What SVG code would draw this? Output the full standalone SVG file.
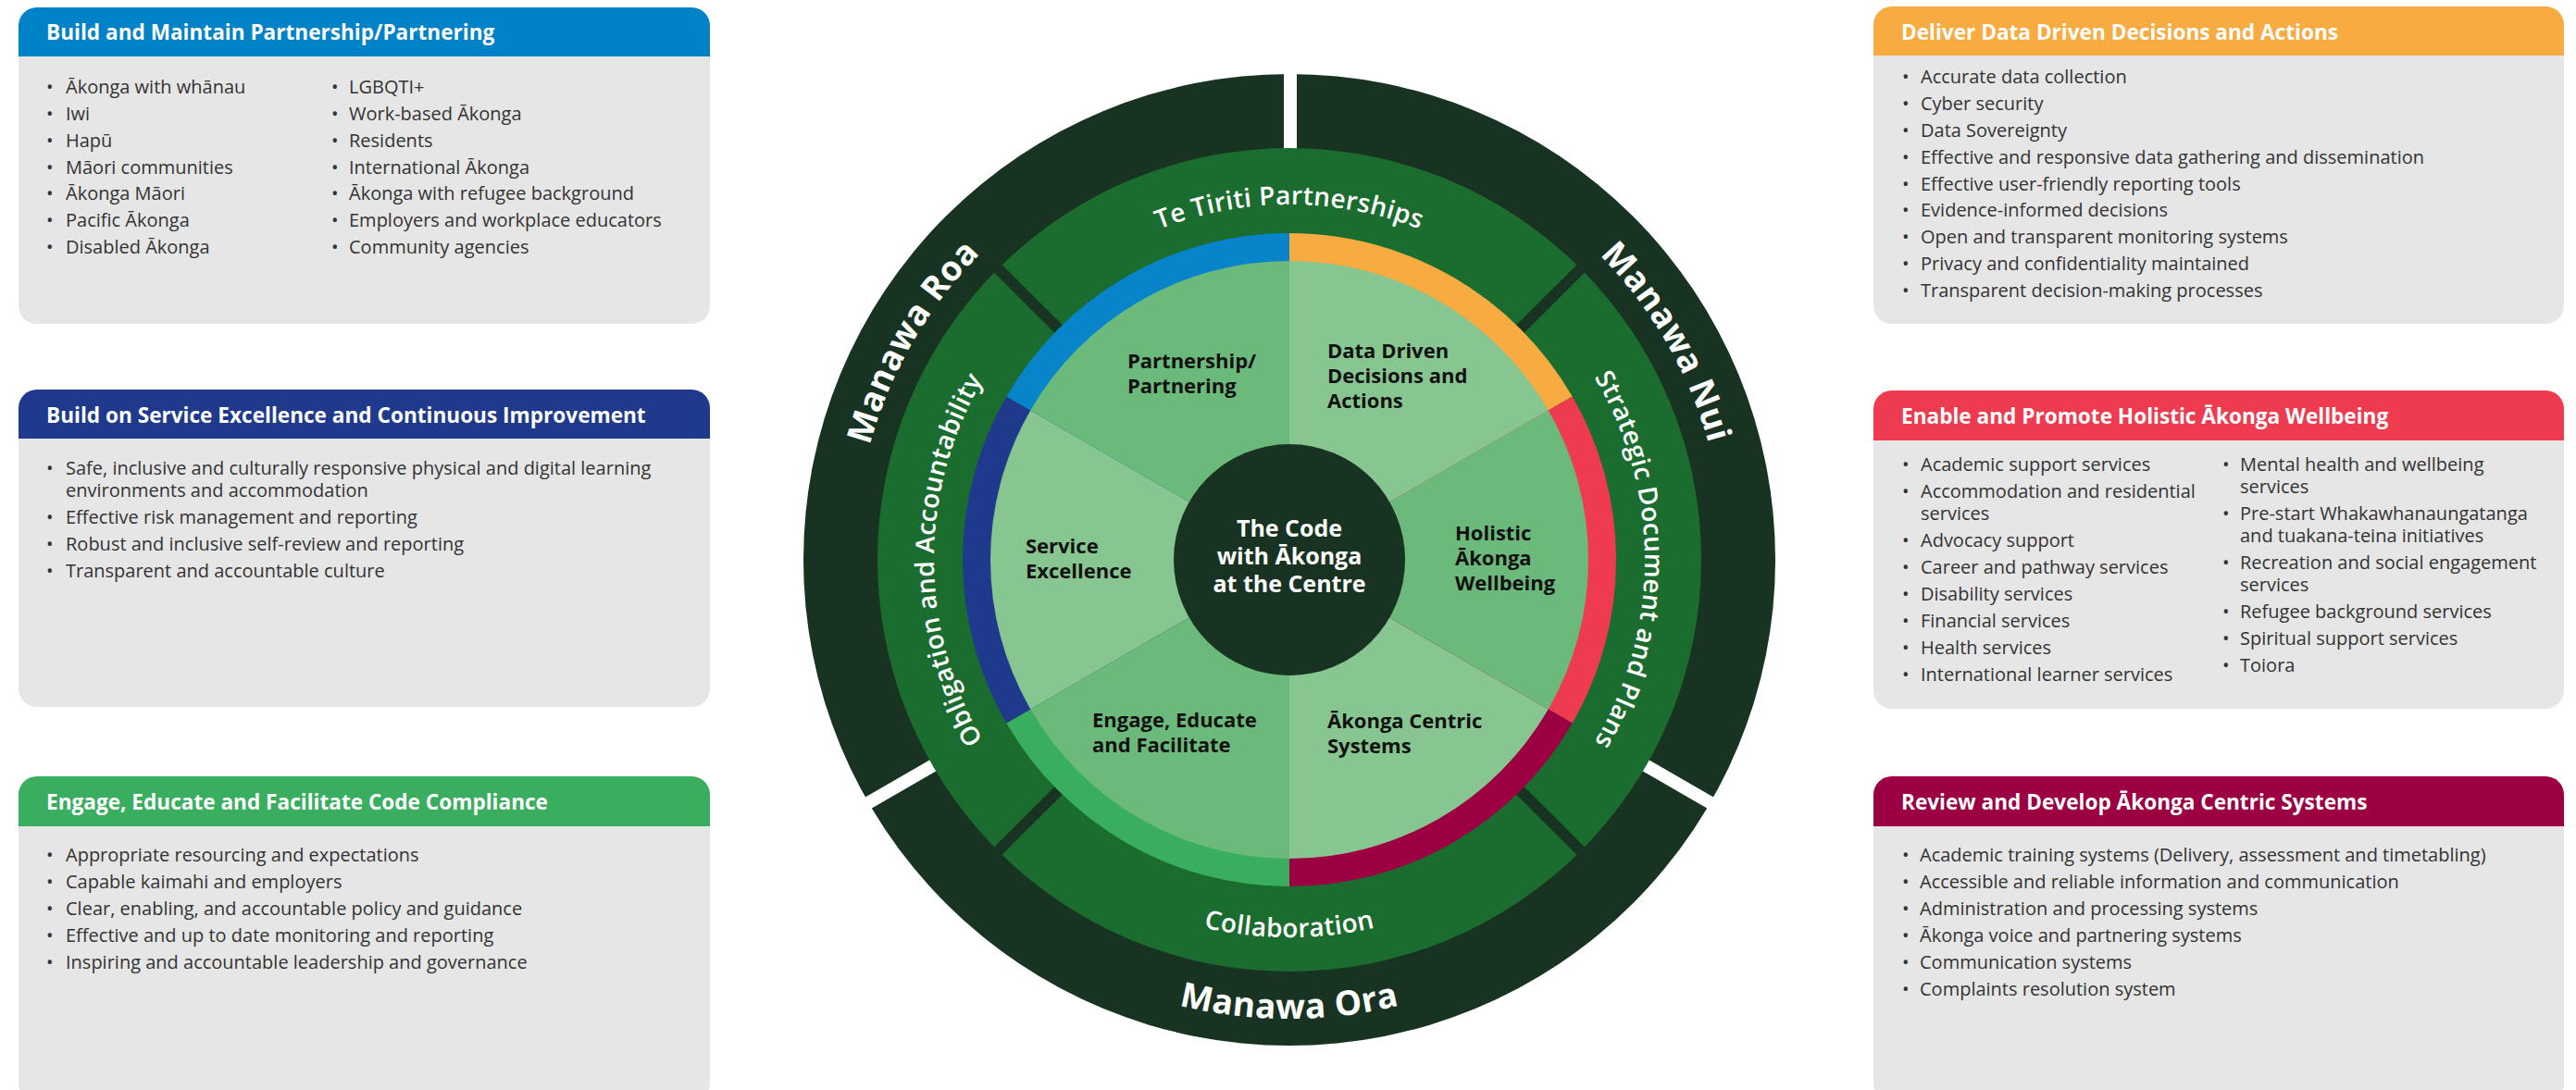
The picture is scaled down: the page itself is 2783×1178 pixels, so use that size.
<svg xmlns="http://www.w3.org/2000/svg" width="2783" height="1178" viewBox="0 0 2783 1178">
<style>
.body{fill:#E6E6E6}
.hd{font-family:"Open Sans","Liberation Sans",sans-serif;font-weight:700;font-size:22.6px;fill:#ffffff}
.it{font-family:"Open Sans","Liberation Sans",sans-serif;font-size:20px;fill:#333333}
.lab{font-family:"Open Sans","Liberation Sans",sans-serif;font-weight:700;font-size:22px;fill:#111111}
.ctr{font-family:"Open Sans","Liberation Sans",sans-serif;font-weight:700;font-size:25px;fill:#ffffff;text-anchor:middle}
.mid{font-family:"Open Sans","Liberation Sans",sans-serif;font-weight:600;font-size:28px;fill:#ffffff;letter-spacing:0.3px}
.out{font-family:"Open Sans","Liberation Sans",sans-serif;font-weight:700;font-size:37px;fill:#ffffff;letter-spacing:0.5px}
.div{stroke:#183321;stroke-width:12}
.gap{stroke:#ffffff;stroke-width:14}
</style>
<defs>
<path id="pRoa" d="M985.97,840 A470,470 0 0 1 1393,135"/>
<path id="pNui" d="M1393,135 A470,470 0 0 1 1800.03,840"/>
<path id="pOra" d="M963.45,853 A496,496 0 0 0 1822.55,853"/>
<path id="pTe" d="M1060.45,413 A384,384 0 0 1 1725.55,413"/>
<path id="pStr" d="M1585,272.45 A384,384 0 0 1 1585,937.55"/>
<path id="pObl" d="M1201,937.55 A384,384 0 0 1 1201,272.45"/>
<path id="pCol" d="M1039.66,809 A408,408 0 0 0 1746.34,809"/>
</defs>
<rect x="0" y="0" width="2783" height="1178" fill="#ffffff"/>

<g id="box-partnership">
<rect class="body" x="20" y="8" width="747" height="342" rx="20"/>
<path d="M20,61 V28 A20,20 0 0 1 40,8 H747 A20,20 0 0 1 767,28 V61 Z" fill="#0082C8"/>
<text class="hd" x="50" y="43">Build and Maintain Partnership/Partnering</text>
<g class="it">
<text x="50" y="101">•</text><text x="71" y="101">Ākonga with whānau</text>
<text x="50" y="130">•</text><text x="71" y="130">Iwi</text>
<text x="50" y="159">•</text><text x="71" y="159">Hapū</text>
<text x="50" y="188">•</text><text x="71" y="188">Māori communities</text>
<text x="50" y="216">•</text><text x="71" y="216">Ākonga Māori</text>
<text x="50" y="245">•</text><text x="71" y="245">Pacific Ākonga</text>
<text x="50" y="274">•</text><text x="71" y="274">Disabled Ākonga</text>
<text x="358" y="101">•</text><text x="377" y="101">LGBQTI+</text>
<text x="358" y="130">•</text><text x="377" y="130">Work-based Ākonga</text>
<text x="358" y="159">•</text><text x="377" y="159">Residents</text>
<text x="358" y="188">•</text><text x="377" y="188">International Ākonga</text>
<text x="358" y="216">•</text><text x="377" y="216">Ākonga with refugee background</text>
<text x="358" y="245">•</text><text x="377" y="245">Employers and workplace educators</text>
<text x="358" y="274">•</text><text x="377" y="274">Community agencies</text>
</g>
</g>

<g id="box-service">
<rect class="body" x="20" y="421" width="747" height="343" rx="20"/>
<path d="M20,474 V441 A20,20 0 0 1 40,421 H747 A20,20 0 0 1 767,441 V474 Z" fill="#1F398C"/>
<text class="hd" x="50" y="457">Build on Service Excellence and Continuous Improvement</text>
<g class="it">
<text x="50" y="513">•</text><text x="71" y="513">Safe, inclusive and culturally responsive physical and digital learning</text>
<text x="71" y="537">environments and accommodation</text>
<text x="50" y="566">•</text><text x="71" y="566">Effective risk management and reporting</text>
<text x="50" y="595">•</text><text x="71" y="595">Robust and inclusive self-review and reporting</text>
<text x="50" y="624">•</text><text x="71" y="624">Transparent and accountable culture</text>
</g>
</g>

<g id="box-engage">
<rect class="body" x="20" y="839" width="747" height="352" rx="20"/>
<path d="M20,893 V859 A20,20 0 0 1 40,839 H747 A20,20 0 0 1 767,859 V893 Z" fill="#39AE5F"/>
<text class="hd" x="50" y="875">Engage, Educate and Facilitate Code Compliance</text>
<g class="it">
<text x="50" y="931">•</text><text x="71" y="931">Appropriate resourcing and expectations</text>
<text x="50" y="960">•</text><text x="71" y="960">Capable kaimahi and employers</text>
<text x="50" y="989">•</text><text x="71" y="989">Clear, enabling, and accountable policy and guidance</text>
<text x="50" y="1018">•</text><text x="71" y="1018">Effective and up to date monitoring and reporting</text>
<text x="50" y="1047">•</text><text x="71" y="1047">Inspiring and accountable leadership and governance</text>
</g>
</g>

<g id="box-data">
<rect class="body" x="2024" y="7" width="746" height="343" rx="20"/>
<path d="M2024,60 V27 A20,20 0 0 1 2044,7 H2750 A20,20 0 0 1 2770,27 V60 Z" fill="#F8AB41"/>
<text class="hd" x="2054" y="43">Deliver Data Driven Decisions and Actions</text>
<g class="it">
<text x="2055" y="90">•</text><text x="2075" y="90">Accurate data collection</text>
<text x="2055" y="119">•</text><text x="2075" y="119">Cyber security</text>
<text x="2055" y="148">•</text><text x="2075" y="148">Data Sovereignty</text>
<text x="2055" y="177">•</text><text x="2075" y="177">Effective and responsive data gathering and dissemination</text>
<text x="2055" y="206">•</text><text x="2075" y="206">Effective user-friendly reporting tools</text>
<text x="2055" y="234">•</text><text x="2075" y="234">Evidence-informed decisions</text>
<text x="2055" y="263">•</text><text x="2075" y="263">Open and transparent monitoring systems</text>
<text x="2055" y="292">•</text><text x="2075" y="292">Privacy and confidentiality maintained</text>
<text x="2055" y="321">•</text><text x="2075" y="321">Transparent decision-making processes</text>
</g>
</g>

<g id="box-wellbeing">
<rect class="body" x="2024" y="422" width="746" height="344" rx="20"/>
<path d="M2024,476 V442 A20,20 0 0 1 2044,422 H2750 A20,20 0 0 1 2770,442 V476 Z" fill="#EE3B4F"/>
<text class="hd" x="2054" y="458">Enable and Promote Holistic Ākonga Wellbeing</text>
<g class="it">
<text x="2055" y="509">•</text><text x="2075" y="509">Academic support services</text>
<text x="2055" y="538">•</text><text x="2075" y="538">Accommodation and residential</text>
<text x="2075" y="562">services</text>
<text x="2055" y="591">•</text><text x="2075" y="591">Advocacy support</text>
<text x="2055" y="620">•</text><text x="2075" y="620">Career and pathway services</text>
<text x="2055" y="649">•</text><text x="2075" y="649">Disability services</text>
<text x="2055" y="678">•</text><text x="2075" y="678">Financial services</text>
<text x="2055" y="707">•</text><text x="2075" y="707">Health services</text>
<text x="2055" y="736">•</text><text x="2075" y="736">International learner services</text>
<text x="2401" y="509">•</text><text x="2420" y="509">Mental health and wellbeing</text>
<text x="2420" y="533">services</text>
<text x="2401" y="562">•</text><text x="2420" y="562">Pre-start Whakawhanaungatanga</text>
<text x="2420" y="586">and tuakana-teina initiatives</text>
<text x="2401" y="615">•</text><text x="2420" y="615">Recreation and social engagement</text>
<text x="2420" y="639">services</text>
<text x="2401" y="668">•</text><text x="2420" y="668">Refugee background services</text>
<text x="2401" y="697">•</text><text x="2420" y="697">Spiritual support services</text>
<text x="2401" y="726">•</text><text x="2420" y="726">Toiora</text>
</g>
</g>

<g id="box-systems">
<rect class="body" x="2024" y="839" width="746" height="352" rx="20"/>
<path d="M2024,893 V859 A20,20 0 0 1 2044,839 H2750 A20,20 0 0 1 2770,859 V893 Z" fill="#9C0042"/>
<text class="hd" x="2054" y="875">Review and Develop Ākonga Centric Systems</text>
<g class="it">
<text x="2055" y="931">•</text><text x="2074" y="931">Academic training systems (Delivery, assessment and timetabling)</text>
<text x="2055" y="960">•</text><text x="2074" y="960">Accessible and reliable information and communication</text>
<text x="2055" y="989">•</text><text x="2074" y="989">Administration and processing systems</text>
<text x="2055" y="1018">•</text><text x="2074" y="1018">Ākonga voice and partnering systems</text>
<text x="2055" y="1047">•</text><text x="2074" y="1047">Communication systems</text>
<text x="2055" y="1076">•</text><text x="2074" y="1076">Complaints resolution system</text>
</g>
</g>

<g id="outer-ring">
<circle cx="1393" cy="605" r="525" fill="#183321"/>
<line class="gap" x1="1394" y1="205" x2="1394" y2="60"/>
<line class="gap" x1="1739.4" y1="805" x2="1869.3" y2="880"/>
<line class="gap" x1="1046.6" y1="805" x2="916.7" y2="880"/>
<text class="out"><textPath href="#pRoa" startOffset="50%" text-anchor="middle">Manawa Roa</textPath></text>
<text class="out"><textPath href="#pNui" startOffset="50%" text-anchor="middle">Manawa Nui</textPath></text>
<text class="out"><textPath href="#pOra" startOffset="50%" text-anchor="middle">Manawa Ora</textPath></text>
</g>

<g id="middle-ring">
<circle cx="1393" cy="605" r="445" fill="#1B6D2F"/>
<line class="div" x1="1152.6" y1="364.6" x2="1076.9" y2="288.9"/>
<line class="div" x1="1633.4" y1="364.6" x2="1709.1" y2="288.9"/>
<line class="div" x1="1633.4" y1="845.4" x2="1709.1" y2="921.1"/>
<line class="div" x1="1152.6" y1="845.4" x2="1076.9" y2="921.1"/>
<text class="mid"><textPath href="#pTe" startOffset="50%" text-anchor="middle">Te Tiriti Partnerships</textPath></text>
<text class="mid"><textPath href="#pStr" startOffset="50%" text-anchor="middle">Strategic Document and Plans</textPath></text>
<text class="mid"><textPath href="#pObl" startOffset="50%" text-anchor="middle">Obligation and Accountability</textPath></text>
<text class="mid"><textPath href="#pCol" startOffset="50%" text-anchor="middle">Collaboration</textPath></text>
</g>

<g id="slice-data">
<path d="M1393,605 L1393,252 A353,353 0 0 1 1698.71,428.5 Z" fill="#F8AB41"/>
<path d="M1393,605 L1393,282 A323,323 0 0 1 1672.73,443.5 Z" fill="#87C691"/>
<text class="lab" x="1434" y="387">Data Driven</text>
<text class="lab" x="1434" y="414">Decisions and</text>
<text class="lab" x="1434" y="441">Actions</text>
</g>
<g id="slice-wellbeing">
<path d="M1393,605 L1698.71,428.5 A353,353 0 0 1 1698.71,781.5 Z" fill="#EE3B4F"/>
<path d="M1393,605 L1672.73,443.5 A323,323 0 0 1 1672.73,766.5 Z" fill="#6BBA7B"/>
<text class="lab" x="1572" y="584">Holistic</text>
<text class="lab" x="1572" y="611">Ākonga</text>
<text class="lab" x="1572" y="638">Wellbeing</text>
</g>
<g id="slice-systems">
<path d="M1393,605 L1698.71,781.5 A353,353 0 0 1 1393,958 Z" fill="#9C0042"/>
<path d="M1393,605 L1672.73,766.5 A323,323 0 0 1 1393,928 Z" fill="#87C691"/>
<text class="lab" x="1434" y="787">Ākonga Centric</text>
<text class="lab" x="1434" y="814">Systems</text>
</g>
<g id="slice-engage">
<path d="M1393,605 L1393,958 A353,353 0 0 1 1087.29,781.5 Z" fill="#39AE5F"/>
<path d="M1393,605 L1393,928 A323,323 0 0 1 1113.27,766.5 Z" fill="#6BBA7B"/>
<text class="lab" x="1180" y="786">Engage, Educate</text>
<text class="lab" x="1180" y="813">and Facilitate</text>
</g>
<g id="slice-service">
<path d="M1393,605 L1087.29,781.5 A353,353 0 0 1 1087.29,428.5 Z" fill="#1F398C"/>
<path d="M1393,605 L1113.27,766.5 A323,323 0 0 1 1113.27,443.5 Z" fill="#87C691"/>
<text class="lab" x="1108" y="598">Service</text>
<text class="lab" x="1108" y="625">Excellence</text>
</g>
<g id="slice-partnership">
<path d="M1393,605 L1087.29,428.5 A353,353 0 0 1 1393,252 Z" fill="#0784CA"/>
<path d="M1393,605 L1113.27,443.5 A323,323 0 0 1 1393,282 Z" fill="#6BBA7B"/>
<text class="lab" x="1218" y="398">Partnership/</text>
<text class="lab" x="1218" y="425">Partnering</text>
</g>

<g id="centre">
<circle cx="1393" cy="605" r="125" fill="#183321"/>
<text class="ctr" x="1393" y="580">The Code</text>
<text class="ctr" x="1393" y="610">with Ākonga</text>
<text class="ctr" x="1393" y="640">at the Centre</text>
</g>

<g id="connectors"/>
</svg>
